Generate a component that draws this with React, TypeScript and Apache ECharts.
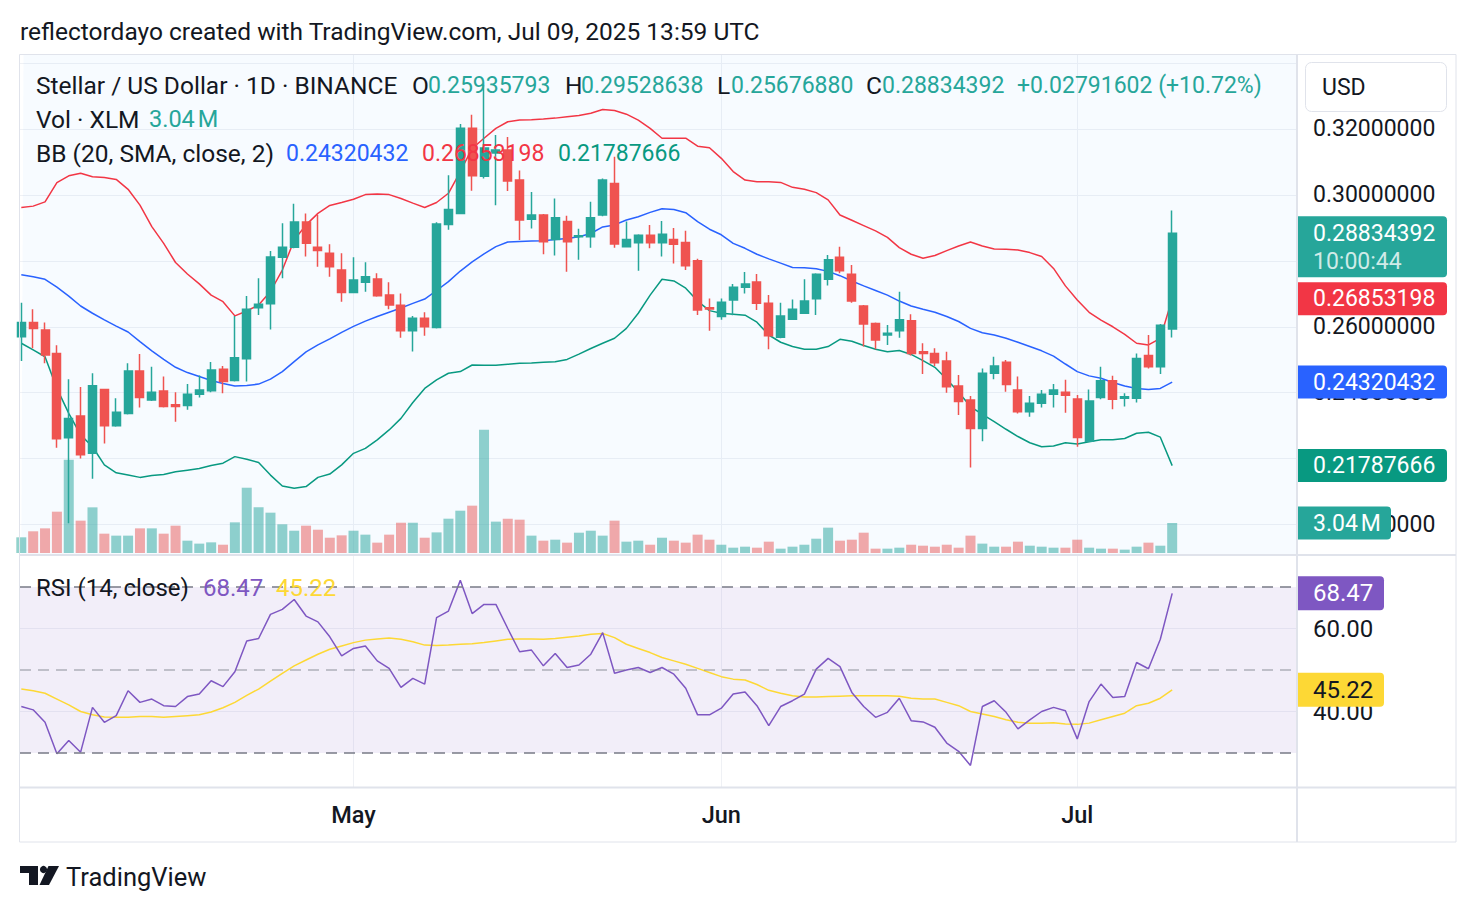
import React, { useEffect, useRef } from "react";
import * as echarts from "echarts";

const FONT = "Roboto, 'Noto Sans', sans-serif";
const DARK = "#131722";
const UP = "#26a69a";
const DOWN = "#ef5350";
const VOL_UP = "rgba(38,166,154,0.5)";
const VOL_DOWN = "rgba(239,83,80,0.5)";
const GRID_C = "#eff1f5";
const FRAME_C = "#e0e3eb";
const LEGEND_SIZE = 24.5;
const NUM_SIZE = 23;
const AXIS_SIZE = 23;

// x values are day indices counted from the first visible day
const firstDay = "2025-04-03";
const monthTickIndex = [28, 59, 89];
const monthTickLabels = ["May", "Jun", "Jul"];
const priceGridValues = [0.2, 0.22, 0.24, 0.26, 0.28, 0.3, 0.32, 0.34];
const priceLabelValues = [0.2, 0.24, 0.26, 0.3, 0.32];
const rsiGridValues = [40, 60];
const rsiLevels = [70, 50, 30];

const opens = [
  0.2570, 0.2613, 0.2590, 0.2519, 0.2263, 0.2329, 0.2216, 0.2410, 0.2300, 0.2337,
  0.2466, 0.2378, 0.2405, 0.2363, 0.2361, 0.2395, 0.2406, 0.2471, 0.2437, 0.2503,
  0.2658, 0.2670, 0.2811, 0.2841, 0.2918, 0.2841, 0.2823, 0.2772, 0.2704, 0.2735,
  0.2745, 0.2696, 0.2665, 0.2588, 0.2626, 0.2598, 0.2910, 0.2944, 0.3202, 0.3057,
  0.3127, 0.3136, 0.3045, 0.2926, 0.2939, 0.2865, 0.2919, 0.2873, 0.2873, 0.2939,
  0.3035, 0.2843, 0.2855, 0.2878, 0.2855, 0.2865, 0.2856, 0.2800, 0.2658, 0.2631,
  0.2681, 0.2720, 0.2736, 0.2671, 0.2568, 0.2623, 0.2641, 0.2685, 0.2744, 0.2811,
  0.2759, 0.2663, 0.2610, 0.2575, 0.2588, 0.2618, 0.2524, 0.2519, 0.2496, 0.2420,
  0.2378, 0.2291, 0.2459, 0.2492, 0.2408, 0.2342, 0.2368, 0.2395, 0.2401, 0.2381,
  0.2253, 0.2385, 0.2436, 0.2383, 0.2383, 0.2513, 0.2479, 0.25935793,
];
const highs = [
  0.2673, 0.2653, 0.2613, 0.2544, 0.2441, 0.2417, 0.2459, 0.2412, 0.2383, 0.2489,
  0.2517, 0.2479, 0.2449, 0.2401, 0.2426, 0.2452, 0.2493, 0.2481, 0.2633, 0.2693,
  0.2747, 0.2830, 0.2914, 0.2973, 0.2944, 0.2939, 0.2850, 0.2823, 0.2811, 0.2796,
  0.2762, 0.2735, 0.2701, 0.2633, 0.2644, 0.2917, 0.3060, 0.3215, 0.3243, 0.3334,
  0.3182, 0.3176, 0.3074, 0.3009, 0.2942, 0.2989, 0.2937, 0.2897, 0.2979, 0.3050,
  0.3116, 0.2919, 0.2881, 0.2909, 0.2921, 0.2900, 0.2891, 0.2806, 0.2686, 0.2686,
  0.2730, 0.2766, 0.2760, 0.2696, 0.2673, 0.2683, 0.2744, 0.2762, 0.2818, 0.2843,
  0.2787, 0.2666, 0.2613, 0.2605, 0.2706, 0.2638, 0.2550, 0.2535, 0.2524, 0.2454,
  0.2390, 0.2473, 0.2509, 0.2499, 0.2449, 0.2390, 0.2408, 0.2426, 0.2439, 0.2393,
  0.2410, 0.2479, 0.2451, 0.2398, 0.2519, 0.2575, 0.2608, 0.29528638,
];
const lows = [
  0.2496, 0.2535, 0.2489, 0.2233, 0.2004, 0.2200, 0.2139, 0.2246, 0.2297, 0.2334,
  0.2355, 0.2375, 0.2355, 0.2312, 0.2348, 0.2385, 0.2401, 0.2398, 0.2434, 0.2434,
  0.2636, 0.2592, 0.2747, 0.2838, 0.2813, 0.2782, 0.2752, 0.2676, 0.2702, 0.2706,
  0.2691, 0.2653, 0.2567, 0.2525, 0.2573, 0.2595, 0.2894, 0.2942, 0.3013, 0.3050,
  0.2969, 0.3012, 0.2863, 0.2898, 0.2820, 0.2816, 0.2767, 0.2803, 0.2840, 0.2935,
  0.2840, 0.2843, 0.2770, 0.2838, 0.2813, 0.2792, 0.2772, 0.2636, 0.2588, 0.2621,
  0.2635, 0.2701, 0.2651, 0.2532, 0.2565, 0.2621, 0.2639, 0.2636, 0.2725, 0.2762,
  0.2673, 0.2540, 0.2532, 0.2545, 0.2567, 0.2513, 0.2457, 0.2481, 0.2400, 0.2332,
  0.2173, 0.2253, 0.2441, 0.2403, 0.2337, 0.2327, 0.2355, 0.2355, 0.2339, 0.2236,
  0.2251, 0.2380, 0.2350, 0.2358, 0.2370, 0.2473, 0.2457, 0.25676880,
];
const closes = [
  0.2613, 0.2595, 0.2514, 0.2260, 0.2322, 0.2212, 0.2421, 0.2300, 0.2341, 0.2466,
  0.2385, 0.2401, 0.2358, 0.2358, 0.2395, 0.2408, 0.2469, 0.2434, 0.2506, 0.2653,
  0.2668, 0.2812, 0.2841, 0.2918, 0.2853, 0.2831, 0.2782, 0.2704, 0.2742, 0.2752,
  0.2694, 0.2666, 0.2588, 0.2626, 0.2600, 0.2912, 0.2956, 0.3202, 0.3058, 0.3142,
  0.3136, 0.3042, 0.2924, 0.2939, 0.2858, 0.2931, 0.2858, 0.2876, 0.2931, 0.3045,
  0.2851, 0.2865, 0.2878, 0.2855, 0.2881, 0.2850, 0.2785, 0.2651, 0.2654, 0.2674,
  0.2720, 0.2730, 0.2671, 0.2573, 0.2633, 0.2653, 0.2678, 0.2759, 0.2803, 0.2770,
  0.2678, 0.2608, 0.2560, 0.2580, 0.2621, 0.2519, 0.2519, 0.2491, 0.2418, 0.2373,
  0.2291, 0.2459, 0.2481, 0.2425, 0.2342, 0.2368, 0.2395, 0.2408, 0.2392, 0.2264,
  0.2375, 0.2436, 0.2380, 0.2388, 0.2504, 0.2479, 0.2604279, 0.28834392,
];
// millions of XLM
const volumes = [
  1.59, 2.20, 2.50, 4.19, 9.46, 3.28, 4.63, 1.96, 1.76, 1.76, 2.50, 2.50, 1.96, 2.77, 1.25, 0.95, 1.08,
  0.84, 3.11, 6.62, 4.63, 4.09, 2.91, 2.26, 2.77, 2.36, 1.55, 1.79, 2.26, 1.86, 1.05, 1.86, 3.07, 3.07,
  1.55, 2.09, 3.48, 4.29, 4.80, 12.50, 3.18, 3.48, 3.38, 1.76, 1.25, 1.35, 1.05, 2.06, 2.26, 1.76,
  3.28, 1.15, 1.25, 0.84, 1.55, 1.25, 1.05, 1.86, 1.35, 0.84, 0.54, 0.64, 0.54, 1.15, 0.44, 0.64,
  0.84, 1.45, 2.57, 1.25, 1.35, 2.06, 0.44, 0.44, 0.54, 0.84, 0.74, 0.64, 0.84, 0.54, 1.76, 0.95,
  0.64, 0.64, 1.15, 0.74, 0.64, 0.54, 0.54, 1.35, 0.54, 0.44, 0.44, 0.34, 0.64, 1.05, 0.74, 3.04,
];
const bbUpper = [
  0.2962, 0.2966, 0.2979, 0.3037, 0.3058, 0.3066, 0.3055, 0.3053, 0.3047, 0.3017, 0.2969, 0.2904, 0.2853, 0.2795, 0.2760, 0.2730, 0.2696,
  0.2676, 0.2633, 0.2648, 0.2666, 0.2707, 0.2772, 0.2863, 0.2909, 0.2944, 0.2968, 0.2977, 0.2987, 0.3001, 0.3003, 0.3001, 0.2989, 0.2975,
  0.2962, 0.2977, 0.3005, 0.3071, 0.3141, 0.3172, 0.3202, 0.3222, 0.3227, 0.3228, 0.3230, 0.3233, 0.3237, 0.3241, 0.3248, 0.3259,
  0.3256, 0.3245, 0.3227, 0.3202, 0.3172, 0.3172, 0.3172, 0.3148, 0.3143, 0.3111, 0.3071, 0.3045, 0.3040, 0.3040, 0.3038, 0.3023,
  0.3017, 0.3007, 0.2985, 0.2939, 0.2923, 0.2907, 0.2891, 0.2871, 0.2840, 0.2820, 0.2808, 0.2816, 0.2831, 0.2845, 0.2857, 0.2845,
  0.2836, 0.2835, 0.2833, 0.2825, 0.2813, 0.2777, 0.2724, 0.2681, 0.2644, 0.2620, 0.2600, 0.2577, 0.2550, 0.2545, 0.2565, 0.26853198,
];
const bbBasis = [
  0.2758, 0.2752, 0.2744, 0.2720, 0.2693, 0.2663, 0.2641, 0.2621, 0.2602, 0.2584, 0.2555, 0.2527, 0.2501, 0.2477, 0.2461, 0.2449, 0.2437,
  0.2428, 0.2420, 0.2422, 0.2426, 0.2441, 0.2464, 0.2494, 0.2524, 0.2545, 0.2563, 0.2583, 0.2601, 0.2617, 0.2631, 0.2644, 0.2657, 0.2671,
  0.2684, 0.2710, 0.2737, 0.2769, 0.2797, 0.2821, 0.2843, 0.2857, 0.2859, 0.2860, 0.2861, 0.2865, 0.2868, 0.2873, 0.2883, 0.2903,
  0.2909, 0.2924, 0.2934, 0.2947, 0.2958, 0.2956, 0.2946, 0.2919, 0.2896, 0.2879, 0.2853, 0.2838, 0.2820, 0.2806, 0.2793, 0.2780,
  0.2779, 0.2776, 0.2768, 0.2755, 0.2739, 0.2724, 0.2710, 0.2696, 0.2678, 0.2663, 0.2653, 0.2644, 0.2631, 0.2616, 0.2595, 0.2582,
  0.2575, 0.2565, 0.2553, 0.2540, 0.2527, 0.2511, 0.2487, 0.2464, 0.2451, 0.2444, 0.2431, 0.2420, 0.2413, 0.2410, 0.2413, 0.24320432,
];
const bbLower = [
  0.2550, 0.2530, 0.2509, 0.2413, 0.2337, 0.2272, 0.2236, 0.2181, 0.2157, 0.2150, 0.2143, 0.2149, 0.2152, 0.2160, 0.2165, 0.2170, 0.2179,
  0.2186, 0.2206, 0.2198, 0.2188, 0.2150, 0.2117, 0.2110, 0.2115, 0.2143, 0.2153, 0.2181, 0.2216, 0.2231, 0.2257, 0.2287, 0.2322, 0.2370,
  0.2413, 0.2439, 0.2459, 0.2464, 0.2484, 0.2483, 0.2483, 0.2486, 0.2489, 0.2490, 0.2492, 0.2494, 0.2501, 0.2517, 0.2534, 0.2550,
  0.2565, 0.2595, 0.2641, 0.2696, 0.2744, 0.2739, 0.2717, 0.2678, 0.2649, 0.2641, 0.2638, 0.2635, 0.2614, 0.2575, 0.2553, 0.2540,
  0.2532, 0.2532, 0.2540, 0.2562, 0.2556, 0.2543, 0.2532, 0.2524, 0.2528, 0.2516, 0.2497, 0.2477, 0.2441, 0.2401, 0.2358, 0.2334,
  0.2312, 0.2289, 0.2267, 0.2248, 0.2236, 0.2238, 0.2248, 0.2244, 0.2251, 0.2257, 0.2257, 0.2261, 0.2277, 0.2280, 0.2265, 0.21787666,
];
const rsi = [
  41.2, 40.4, 37.4, 29.8, 33.0, 30.2, 41.0, 37.4, 39.0, 45.0, 42.2, 43.0, 41.4, 41.2, 43.6, 44.2, 47.4, 46.0, 49.6, 57.0, 57.6,
  63.4, 64.6, 67.0, 63.0, 61.6, 58.0, 53.4, 55.2, 55.8, 52.2, 50.4, 45.8, 48.0, 46.6, 62.6, 64.2, 71.6, 63.6, 65.8, 65.8,
  60.0, 54.4, 54.8, 51.0, 54.0, 50.6, 51.2, 53.8, 59.0, 49.2, 50.0, 50.6, 49.4, 50.6, 49.0, 45.6, 39.2, 39.2, 40.8, 44.2,
  44.7, 41.4, 36.6, 41.2, 42.6, 44.2, 50.2, 52.8, 50.8, 44.6, 41.2, 38.6, 39.8, 43.2, 37.8, 37.5, 36.2, 32.4, 30.4, 27.0,
  41.2, 42.6, 39.8, 35.8, 38.0, 40.0, 41.0, 40.2, 33.4, 42.4, 46.6, 43.4, 43.6, 51.8, 50.3, 57.4, 68.47,
];
const rsiMa = [
  45.4, 45.0, 44.4, 43.0, 41.6, 40.0, 39.2, 38.7, 38.6, 38.6, 38.8, 38.8, 38.6, 38.8, 39.0, 39.2, 39.9, 40.9, 42.2, 43.9, 45.4,
  47.3, 49.2, 51.0, 52.4, 53.8, 55.0, 55.8, 56.6, 57.2, 57.5, 57.7, 57.4, 56.8, 56.0, 55.9, 56.0, 56.2, 56.3, 56.6, 57.0,
  57.4, 57.5, 57.5, 57.4, 57.6, 57.9, 58.2, 58.6, 58.8, 57.8, 56.2, 55.2, 54.2, 53.0, 52.2, 51.4, 50.4, 49.4, 48.4, 47.8,
  47.6, 46.5, 45.1, 44.4, 43.8, 43.5, 43.5, 43.6, 43.7, 43.8, 43.8, 43.8, 43.8, 43.7, 43.2, 43.0, 43.0, 42.2, 41.4, 40.0,
  39.4, 38.8, 38.0, 37.4, 37.2, 37.2, 37.3, 37.0, 36.9, 37.2, 38.0, 38.8, 39.6, 41.4, 42.0, 43.2, 45.22,
];

// layout
const GRID_LEFT = 20;
const GRID_W = 1277;
const AXIS_X = GRID_LEFT + GRID_W;
const PRICE_TOP = 55;
const PRICE_H = 498;
const RSI_TOP = 556;
const RSI_H = 231;
const X_MIN = -0.11;
const X_MAX = 107.52;
const P_MIN = 0.191359;
const P_MAX = 0.342451;
const VOL_MAX = 50.5;
const R_MIN = 21.81;
const R_MAX = 77.47;

function txt(text: string, x: number, y: number, color: string, size = LEGEND_SIZE, weight = "normal", z = 100): any {
  return {
    type: "text",
    x,
    y,
    z,
    silent: true,
    style: {
      text,
      fill: color,
      font: `${weight} ${size}px ${FONT}`,
      align: "left",
      verticalAlign: "middle",
      textAlign: "left",
      textVerticalAlign: "middle",
    },
  };
}

function badge(y: number, h: number, w: number, color: string, text: string, textColor: string, size: number): any[] {
  return [
    {
      type: "rect",
      z: 110,
      silent: true,
      shape: { x: AXIS_X + 1, y: y - h / 2, width: w, height: h, r: [0, 4, 4, 0] },
      style: { fill: color },
    },
    txt(text, AXIS_X + 16, y, textColor, size, "normal", 111),
  ];
}

function buildOption(): any {
  const idx = closes.map((_, i) => i);
  const axisFont = { fontFamily: FONT, fontSize: AXIS_SIZE, color: DARK };
  const lineSeries = (name: string, data: number[], color: string, xi: number, yi: number, z: number) => ({
    name,
    type: "line",
    xAxisIndex: xi,
    yAxisIndex: yi,
    data: data.map((v, i) => [i, v]),
    showSymbol: false,
    symbol: "none",
    silent: true,
    z,
    lineStyle: { color, width: 1.5 },
  });
  return {
    animation: false,
    backgroundColor: "#ffffff",
    grid: [
      { left: GRID_LEFT, top: PRICE_TOP, width: GRID_W, height: PRICE_H },
      { left: GRID_LEFT, top: RSI_TOP, width: GRID_W, height: RSI_H },
    ],
    xAxis: [
      {
        type: "value",
        gridIndex: 0,
        min: X_MIN,
        max: X_MAX,
        axisLine: { show: false },
        axisTick: { show: false, customValues: monthTickIndex },
        axisLabel: { show: false, customValues: monthTickIndex },
        splitLine: { show: true, lineStyle: { color: GRID_C, width: 1 } },
      },
      {
        type: "value",
        gridIndex: 1,
        min: X_MIN,
        max: X_MAX,
        axisLine: { show: false },
        axisTick: { show: false, customValues: monthTickIndex },
        axisLabel: {
          show: true,
          customValues: monthTickIndex,
          formatter: (v: number) => monthTickLabels[monthTickIndex.indexOf(Math.round(v))] || "",
          ...axisFont,
          fontSize: 23.5,
          fontWeight: 500,
          margin: 16,
        },
        splitLine: { show: true, lineStyle: { color: GRID_C, width: 1 } },
      },
    ],
    yAxis: [
      {
        type: "value",
        gridIndex: 0,
        position: "right",
        min: P_MIN,
        max: P_MAX,
        axisLine: { show: false },
        axisTick: { show: false, customValues: priceGridValues },
        axisLabel: {
          customValues: priceLabelValues,
          formatter: (v: number) => v.toFixed(8),
          ...axisFont,
          margin: 16,
        },
        splitLine: { show: true, lineStyle: { color: GRID_C, width: 1 } },
      },
      { type: "value", gridIndex: 0, min: 0, max: VOL_MAX, show: false },
      {
        type: "value",
        gridIndex: 1,
        position: "right",
        min: R_MIN,
        max: R_MAX,
        axisLine: { show: false },
        axisTick: { show: false, customValues: rsiGridValues },
        axisLabel: {
          customValues: rsiGridValues,
          formatter: (v: number) => v.toFixed(2),
          ...axisFont,
          fontSize: 24,
          margin: 16,
        },
        splitLine: { show: true, lineStyle: { color: GRID_C, width: 1 } },
      },
    ],
    series: [
      {
        name: "Volume",
        type: "bar",
        xAxisIndex: 0,
        yAxisIndex: 1,
        barWidth: 10,
        silent: true,
        z: 1,
        data: volumes.map((v, i) => ({
          value: [i, v],
          itemStyle: { color: closes[i] >= opens[i] ? VOL_UP : VOL_DOWN },
        })),
      },
      {
        name: "bbBase",
        type: "line",
        xAxisIndex: 0,
        yAxisIndex: 0,
        stack: "bb",
        data: bbLower.map((v, i) => [i, v]),
        symbol: "none",
        showSymbol: false,
        silent: true,
        z: 2,
        lineStyle: { opacity: 0 },
      },
      {
        name: "bbFill",
        type: "line",
        xAxisIndex: 0,
        yAxisIndex: 0,
        stack: "bb",
        data: bbUpper.map((v, i) => [i, v - bbLower[i]]),
        symbol: "none",
        showSymbol: false,
        silent: true,
        z: 2,
        lineStyle: { opacity: 0 },
        areaStyle: { color: "rgba(33,150,243,0.05)" },
      },
      lineSeries("BB upper", bbUpper, "#f23645", 0, 0, 3),
      lineSeries("BB basis", bbBasis, "#2962ff", 0, 0, 3),
      lineSeries("BB lower", bbLower, "#089981", 0, 0, 3),
      {
        name: "XLMUSD",
        type: "candlestick",
        xAxisIndex: 0,
        yAxisIndex: 0,
        barWidth: 8.5,
        silent: true,
        z: 4,
        encode: { x: 0, y: [1, 2, 3, 4] },
        data: idx.map((i) => [i, opens[i], closes[i], lows[i], highs[i]]),
        itemStyle: {
          color: UP,
          color0: DOWN,
          borderColor: UP,
          borderColor0: DOWN,
          borderWidth: 1.5,
        },
      },
      {
        ...lineSeries("RSI", rsi, "#7e57c2", 1, 2, 4),
        markArea: {
          silent: true,
          itemStyle: { color: "rgba(126,87,194,0.1)" },
          data: [[{ yAxis: rsiLevels[2] }, { yAxis: rsiLevels[0] }]],
        },
        markLine: {
          silent: true,
          symbol: ["none", "none"],
          label: { show: false },
          lineStyle: { color: "#787b86", type: [11, 7], width: 1.5 },
          data: [
            { yAxis: rsiLevels[0] },
            { yAxis: rsiLevels[1], lineStyle: { color: "rgba(120,123,134,0.55)", type: [11, 7], width: 1.5 } },
            { yAxis: rsiLevels[2] },
          ],
        },
      },
      lineSeries("RSI MA", rsiMa, "#fdd835", 1, 2, 3),
    ],
  };
}

function buildGraphic(chart: any): any[] {
  const last = closes.length - 1;
  const py = (axis: number, v: number) => chart.convertToPixel({ yAxisIndex: axis }, v) as number;
  const change = closes[last] - closes[last - 1];
  const pct = (change / closes[last - 1]) * 100;
  const sign = change >= 0 ? "+" : "";
  const teal = UP;
  const els: any[] = [];

  // frame & separators
  els.push({
    type: "rect",
    z: 50,
    silent: true,
    shape: { x: 19.5, y: 54.5, width: 1436.5, height: 787.5 },
    style: { fill: "none", stroke: FRAME_C, lineWidth: 1 },
  });
  els.push({ type: "line", z: 50, silent: true, shape: { x1: 19.5, y1: 555, x2: 1456, y2: 555 }, style: { stroke: FRAME_C, lineWidth: 2 } });
  els.push({ type: "line", z: 50, silent: true, shape: { x1: 19.5, y1: 787.5, x2: 1456, y2: 787.5 }, style: { stroke: FRAME_C, lineWidth: 2 } });
  els.push({ type: "line", z: 50, silent: true, shape: { x1: AXIS_X, y1: 54.5, x2: AXIS_X, y2: 842 }, style: { stroke: FRAME_C, lineWidth: 2 } });

  // header
  els.push(txt("reflectordayo created with TradingView.com, Jul 09, 2025 13:59 UTC", 20, 31, DARK, LEGEND_SIZE));

  // legend line 1
  els.push(txt("Stellar / US Dollar · 1D · BINANCE", 36, 85, DARK));
  els.push(txt("O", 412, 85, DARK));
  els.push(txt(opens[last].toFixed(8), 428, 85, teal, NUM_SIZE));
  els.push(txt("H", 565, 85, DARK));
  els.push(txt(highs[last].toFixed(8), 581, 85, teal, NUM_SIZE));
  els.push(txt("L", 717, 85, DARK));
  els.push(txt(lows[last].toFixed(8), 731, 85, teal, NUM_SIZE));
  els.push(txt("C", 866, 85, DARK));
  els.push(txt(closes[last].toFixed(8), 882, 85, teal, NUM_SIZE));
  els.push(txt(`${sign}${change.toFixed(8)} (${sign}${pct.toFixed(2)}%)`, 1017, 85, teal, NUM_SIZE));
  // legend line 2
  els.push(txt("Vol · XLM", 36, 119, DARK));
  els.push(txt(`${volumes[last].toFixed(2)}\u202FM`, 149, 119, teal, 23.5));
  // legend line 3
  els.push(txt("BB (20, SMA, close, 2)", 36, 153, DARK));
  els.push(txt(bbBasis[last].toFixed(8), 286, 153, "#2962ff", NUM_SIZE));
  els.push(txt(bbUpper[last].toFixed(8), 422, 153, "#f23645", NUM_SIZE));
  els.push(txt(bbLower[last].toFixed(8), 558, 153, "#089981", NUM_SIZE));
  // RSI legend
  els.push(txt("RSI (14, close)", 36, 588, DARK, 24));
  els.push(txt(rsi[last].toFixed(2), 203, 588, "#7e57c2", 24));
  els.push(txt(rsiMa[last].toFixed(2), 276, 588, "#fdd835", 24));

  // USD box
  els.push({
    type: "rect",
    z: 105,
    silent: true,
    shape: { x: 1305.5, y: 62.5, width: 141, height: 49, r: 6 },
    style: { fill: "#ffffff", stroke: FRAME_C, lineWidth: 1 },
  });
  els.push(txt("USD", 1322, 87, DARK, AXIS_SIZE, "normal", 106));

  // price badges
  const yc = py(0, closes[last]);
  els.push({
    type: "rect",
    z: 110,
    silent: true,
    shape: { x: AXIS_X + 1, y: yc - 17, width: 149, height: 61, r: [0, 4, 4, 0] },
    style: { fill: UP },
  });
  els.push(txt(closes[last].toFixed(8), AXIS_X + 16, yc, "#ffffff", AXIS_SIZE, "normal", 111));
  els.push(txt("10:00:44", AXIS_X + 16, yc + 28, "rgba(255,255,255,0.78)", AXIS_SIZE, "normal", 111));
  els.push(...badge(py(0, bbUpper[last]), 33, 149, "#f23645", bbUpper[last].toFixed(8), "#ffffff", AXIS_SIZE));
  els.push(...badge(py(0, bbBasis[last]), 33, 149, "#2962ff", bbBasis[last].toFixed(8), "#ffffff", AXIS_SIZE));
  els.push(...badge(py(0, bbLower[last]), 33, 149, "#089981", bbLower[last].toFixed(8), "#ffffff", AXIS_SIZE));
  els.push(...badge(py(1, volumes[last]), 33, 93, UP, `${volumes[last].toFixed(2)}\u202FM`, "#ffffff", AXIS_SIZE));
  // RSI badges
  els.push(...badge(py(2, rsi[last]), 34, 86, "#7e57c2", rsi[last].toFixed(2), "#ffffff", 24));
  els.push(...badge(py(2, rsiMa[last]), 34, 86, "#fdd835", rsiMa[last].toFixed(2), DARK, 24));

  // TradingView logo
  els.push({
    type: "polygon",
    z: 100,
    silent: true,
    shape: { points: [[20, 866], [38, 866], [38, 885], [29, 885], [29, 873], [20, 873]] },
    style: { fill: DARK },
  });
  els.push({ type: "circle", z: 100, silent: true, shape: { cx: 43.5, cy: 869.5, r: 3.6 }, style: { fill: DARK } });
  els.push({
    type: "polygon",
    z: 100,
    silent: true,
    shape: { points: [[48.5, 866], [59, 866], [49, 885], [39.5, 885]] },
    style: { fill: DARK },
  });
  els.push(txt("TradingView", 66, 877, DARK, 25.5));
  return els;
}

export default function App() {
  const ref = useRef<HTMLDivElement>(null);
  useEffect(() => {
    document.body.style.margin = "0";
    const chart = echarts.init(ref.current as HTMLDivElement, null, { renderer: "svg" });
    chart.setOption(buildOption());
    chart.setOption({ graphic: { elements: buildGraphic(chart) } });
    return () => chart.dispose();
  }, []);
  return (
    <div
      ref={ref}
      data-first-day={firstDay}
      style={{ position: "absolute", left: 0, top: 0, width: 1476, height: 912, background: "#fff" }}
    />
  );
}
